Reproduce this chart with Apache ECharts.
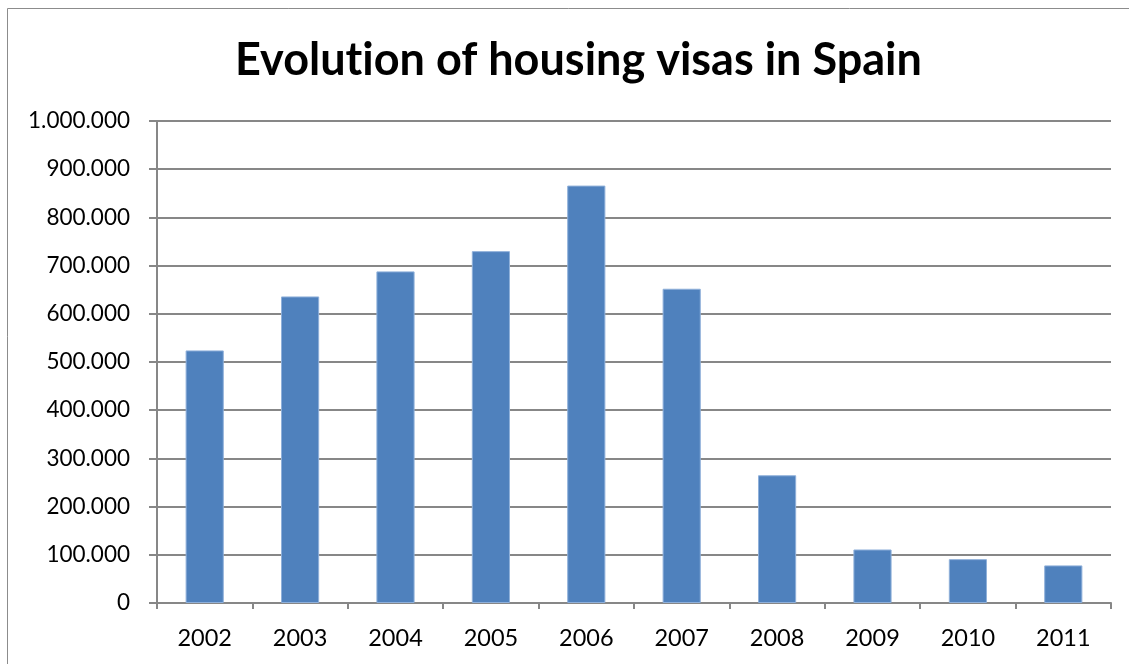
<!DOCTYPE html>
<html>
<head>
<meta charset="utf-8">
<script src="https://cdn.jsdelivr.net/npm/echarts@6/dist/echarts.min.js"></script>
<style>
  html, body { margin: 0; padding: 0; background: #fff; }
  #chart { width: 1129px; height: 664px; }
</style>
</head>
<body>
<div id="chart"></div>
<script>
// Housing visas issued per year in Spain
const years = ['2002', '2003', '2004', '2005', '2006', '2007', '2008', '2009', '2010', '2011'];
const visas = [524000, 636000, 688000, 730000, 866000, 652000, 265000, 111000, 91000, 78000];
const yTicks = { min: 0, max: 1000000, interval: 100000 };

// Spanish-style thousands separator: 1.000.000
function withDots(v) {
  return String(v).replace(/\B(?=(\d{3})+(?!\d))/g, '.');
}

const chart = echarts.init(document.getElementById('chart'), null, { renderer: 'canvas' });
const axisGray = '#878787';
const font = 'Lato, "Open Sans", sans-serif';
const titleStyle = { fontFamily: font, fontWeight: 'bold', fontSize: 45, color: '#000' };

chart.setOption({
  animation: false,
  backgroundColor: '#fff',
  graphic: [{
    type: 'rect',
    shape: { x: 7.5, y: 8.5, width: 1200, height: 700 },
    style: { fill: 'none', stroke: '#8c8c8c', lineWidth: 1 },
    silent: true
  }],
  title: {
    // split into two runs so "t" and "i" are drawn as separate glyphs
    text: '{t|Evolut}{t|ion of housing visas in Spain}',
    left: 230,
    top: 33,
    textStyle: Object.assign({ rich: { t: titleStyle } }, titleStyle)
  },
  grid: { left: 157, right: 18, top: 121, bottom: 61, containLabel: false },
  xAxis: {
    type: 'category',
    data: years,
    axisLine: { lineStyle: { color: axisGray, width: 2 } },
    axisTick: { show: true, length: 6, alignWithLabel: false, lineStyle: { color: axisGray, width: 2 } },
    axisLabel: { fontFamily: font, fontSize: 23.5, color: '#000', margin: 23 },
    splitLine: { show: false }
  },
  yAxis: {
    type: 'value',
    min: yTicks.min,
    max: yTicks.max,
    interval: yTicks.interval,
    axisLine: { show: true, lineStyle: { color: axisGray, width: 2 } },
    axisTick: { show: true, length: 8, lineStyle: { color: axisGray, width: 2 } },
    axisLabel: { fontFamily: font, fontSize: 22.5, color: '#000', margin: 27, formatter: withDots },
    splitLine: { show: true, lineStyle: { color: axisGray, width: 2 } }
  },
  series: [{
    type: 'bar',
    data: visas,
    barCategoryGap: '60%',
    itemStyle: { color: '#4F81BD', borderColor: '#8FB0DA', borderWidth: 1 }
  }]
});
</script>
</body>
</html>
